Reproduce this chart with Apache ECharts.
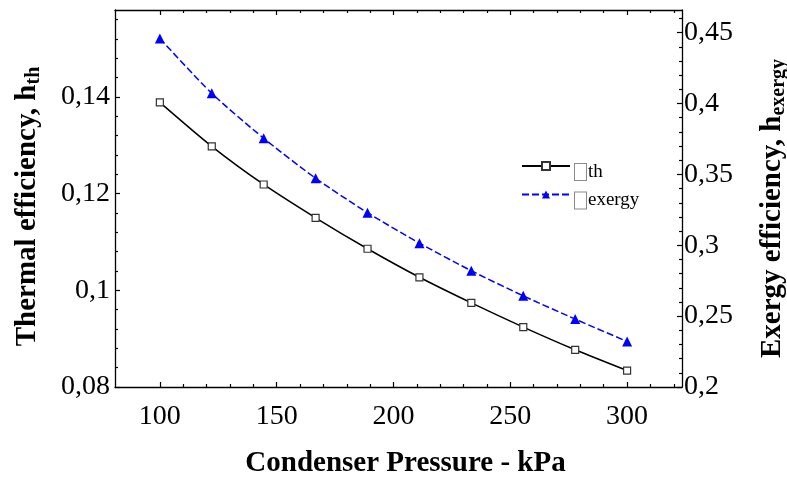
<!DOCTYPE html>
<html><head><meta charset="utf-8">
<script src="https://cdn.jsdelivr.net/npm/echarts@6/dist/echarts.min.js"></script>
<style>html,body{margin:0;padding:0;background:#fff}#c{width:787px;height:480px}</style>
</head><body><div id="c"></div>
<script>
const pressure = [100, 122.22, 144.44, 166.67, 188.89, 211.11, 233.33, 255.56, 277.78, 300];
const thermalEff = [0.1389, 0.1298, 0.1219, 0.1150, 0.1086, 0.1027, 0.0974, 0.0924, 0.0877, 0.0834];
const exergyEff = [0.4459, 0.4072, 0.3755, 0.3473, 0.3230, 0.3015, 0.2820, 0.2643, 0.2479, 0.2321];
const xMajor = [100, 150, 200, 250, 300];
const xMinor = [110, 120, 130, 140, 160, 170, 180, 190, 210, 220, 230, 240, 260, 270, 280, 290, 310, 320];
const yLeftMajor = [0.08, 0.1, 0.12, 0.14];
const yLeftMinor = [0.084, 0.088, 0.092, 0.096, 0.104, 0.108, 0.112, 0.116, 0.124, 0.128, 0.132, 0.136, 0.144, 0.148, 0.152, 0.156];
const yRightMajor = [0.2, 0.25, 0.3, 0.35, 0.4, 0.45];
const yRightMinor = [0.21, 0.22, 0.23, 0.24, 0.26, 0.27, 0.28, 0.29, 0.31, 0.32, 0.33, 0.34, 0.36, 0.37, 0.38, 0.39, 0.41, 0.42, 0.43, 0.44, 0.46];

const X_MIN = 80.8, X_MAX = 323.5;
const YL_MIN = 0.08, YL_MAX = 0.158;
const YR_MIN = 0.2, YR_MAX = 0.466;
const FONT = 'Liberation Serif';
const fmt = v => String(+v.toFixed(4)).replace('.', ',');

function tickAxis(type, pos, min, max, values, len, opts) {
  const a = {
    type: 'value', position: pos, min: min, max: max,
    axisLine: { show: false, onZero: false },
    axisTick: { show: true, inside: true, length: len, customValues: values, lineStyle: { color: '#000', width: 1.2 } },
    axisLabel: { show: false },
    splitLine: { show: false }
  };
  return Object.assign(a, opts || {});
}

const titleRich = {
  m: { fontFamily: FONT, fontWeight: 'bold', fontSize: 29, color: '#000', lineHeight: 32 },
  s: { fontFamily: FONT, fontWeight: 'bold', fontSize: 20, color: '#000', lineHeight: 32, verticalAlign: 'bottom', padding: [9, 0, 0, 0] }
};

const chart = echarts.init(document.getElementById('c'), null, { renderer: 'canvas' });
const option = {
  animation: false,
  backgroundColor: '#fff',
  grid: { left: 115, right: 105, top: 10, bottom: 93, containLabel: false, outerBoundsMode: 'none' },
  legend: {
    orient: 'vertical', left: 516, top: 156, itemGap: 9,
    itemWidth: 48, itemHeight: 10,
    textStyle: { fontFamily: FONT, fontSize: 19, color: '#000', padding: [12, 0, 0, 0],
      rich: {
        box: { width: 11, height: 16, borderColor: '#8a8a8a', borderWidth: 1, backgroundColor: '#fff' },
        t: { fontFamily: FONT, fontSize: 19, color: '#000', padding: [0, 0, 0, 2] }
      }
    },
    formatter: n => '{box| }{t|' + n + '}',
    data: ['th', 'exergy']
  },
  xAxis: [
    {
      type: 'value', position: 'bottom', min: X_MIN, max: X_MAX,
      name: 'Condenser Pressure - kPa', nameLocation: 'middle', nameGap: 62,
      nameTextStyle: { fontFamily: FONT, fontWeight: 'bold', fontSize: 29, color: '#000', padding: [0, 0, 0, 14] },
      axisLine: { show: true, onZero: false, lineStyle: { color: '#000', width: 1.3 } },
      axisTick: { show: true, inside: true, length: 5, customValues: xMajor, lineStyle: { color: '#000', width: 1.2 } },
      axisLabel: { show: true, customValues: xMajor, margin: 16, fontFamily: FONT, fontSize: 28, color: '#000', formatter: v => String(v) },
      splitLine: { show: false }
    },
    tickAxis('x', 'bottom', X_MIN, X_MAX, xMinor, 3),
    tickAxis('x', 'top', X_MIN, X_MAX, xMajor, 5, { axisLine: { show: true, onZero: false, lineStyle: { color: '#000', width: 1.3 } } }),
    tickAxis('x', 'top', X_MIN, X_MAX, xMinor, 3)
  ],
  yAxis: [
    {
      type: 'value', position: 'left', min: YL_MIN, max: YL_MAX,
      name: '{m|Thermal efficiency, h}{s|th}', nameLocation: 'middle', nameGap: 71, nameRotate: 90,
      nameTextStyle: { rich: titleRich, padding: [0, 16, 0, 0] },
      axisLine: { show: true, onZero: false, lineStyle: { color: '#000', width: 1.3 } },
      axisTick: { show: true, inside: true, length: 5, customValues: yLeftMajor, lineStyle: { color: '#000', width: 1.2 } },
      axisLabel: { show: true, customValues: yLeftMajor, margin: 5, fontFamily: FONT, fontSize: 28, color: '#000', formatter: fmt },
      splitLine: { show: false }
    },
    tickAxis('y', 'left', YL_MIN, YL_MAX, yLeftMinor, 3),
    {
      type: 'value', position: 'right', min: YR_MIN, max: YR_MAX,
      name: '{m|Exergy efficiency, h}{s|exergy}', nameLocation: 'middle', nameGap: 75, nameRotate: 90,
      nameTextStyle: { rich: titleRich, padding: [0, 20, 0, 0] },
      axisLine: { show: true, onZero: false, lineStyle: { color: '#000', width: 1.3 } },
      axisTick: { show: true, inside: true, length: 5, customValues: yRightMajor, lineStyle: { color: '#000', width: 1.2 } },
      axisLabel: { show: true, customValues: yRightMajor, margin: 2, fontFamily: FONT, fontSize: 28, color: '#000', formatter: fmt },
      splitLine: { show: false }
    },
    tickAxis('y', 'right', YR_MIN, YR_MAX, yRightMinor, 3)
  ],
  series: [
    {
      name: 'th', type: 'line', xAxisIndex: 0, yAxisIndex: 0,
      data: pressure.map((p, i) => [p, thermalEff[i]]),
      smooth: 0.25, symbol: 'rect', symbolSize: 7,
      lineStyle: { color: '#000', width: 1.5, type: 'solid' },
      itemStyle: { color: '#fff', borderColor: '#333', borderWidth: 1.2 },
      z: 3
    },
    {
      name: 'exergy', type: 'line', xAxisIndex: 0, yAxisIndex: 2,
      data: pressure.map((p, i) => [p, exergyEff[i]]),
      smooth: 0.25, symbol: 'triangle', symbolSize: 10,
      lineStyle: { color: '#0000ff', width: 1.5, type: [7, 3] },
      itemStyle: { color: '#0000ff', borderWidth: 0 },
      z: 3
    }
  ]
};
chart.setOption(option);
</script>
</body></html>
